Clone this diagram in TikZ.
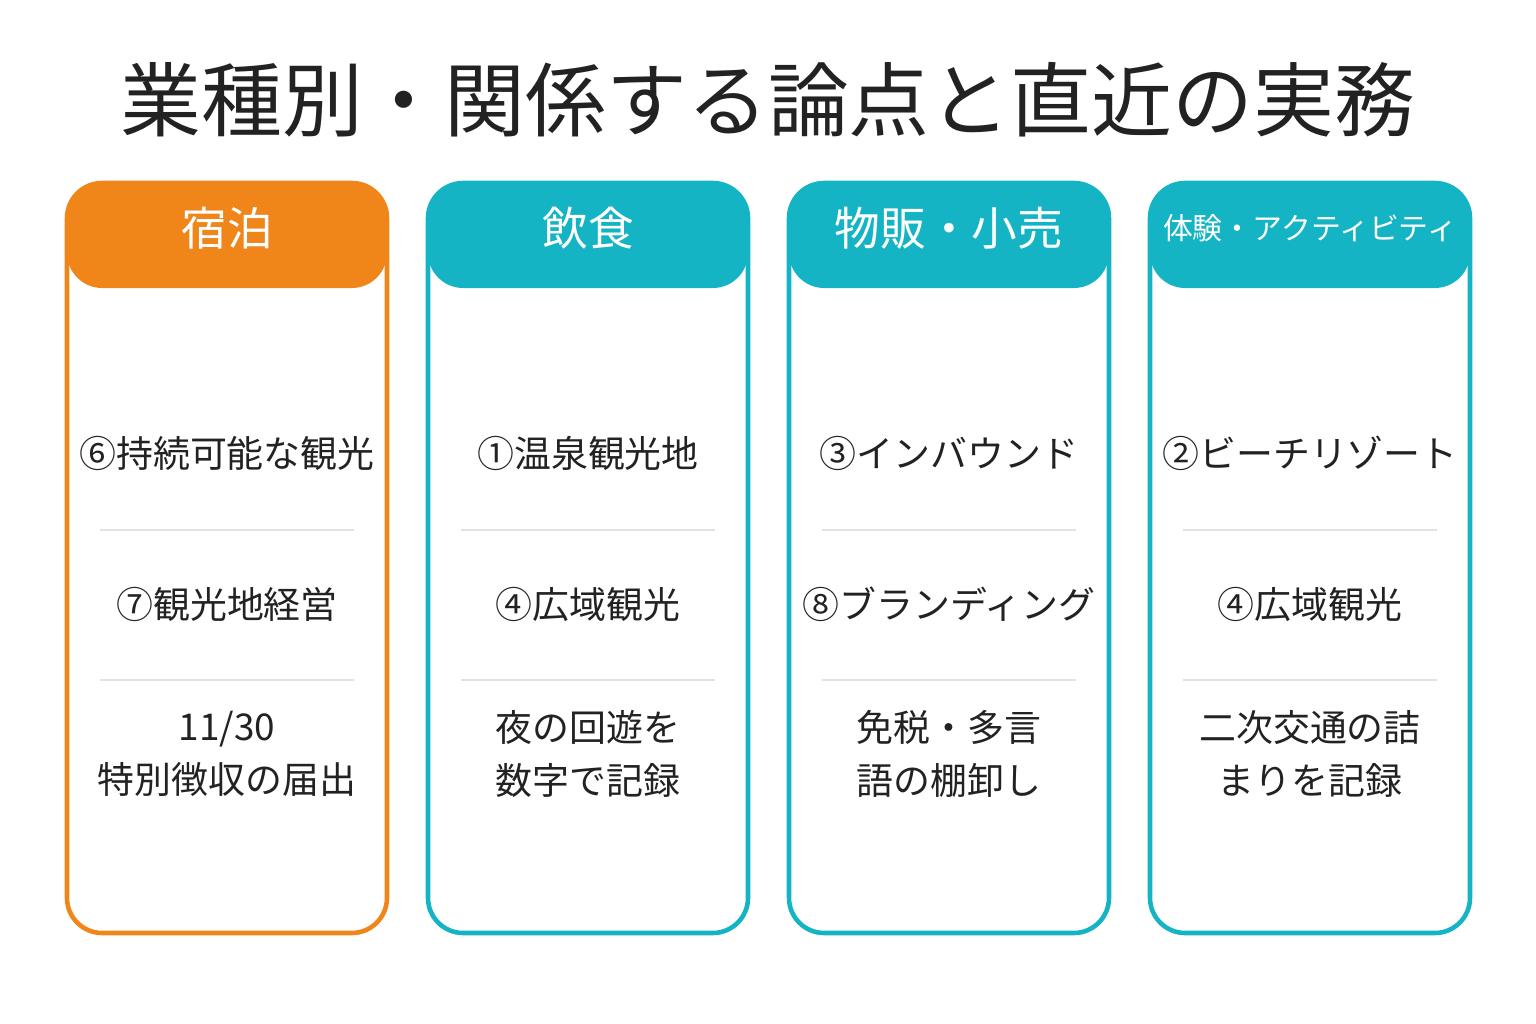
\documentclass[tikz,border=0pt]{standalone}
\usepackage{fontspec}
\setmainfont{Noto Sans CJK JP}
\usetikzlibrary{positioning}
\definecolor{hotel}{HTML}{F0851A}
\definecolor{teal}{HTML}{14B4C4}
\definecolor{rule}{HTML}{E2E2E2}
\definecolor{ink}{HTML}{222222}
\tikzset{
  colbox/.style={draw=#1, line width=1.3pt, rounded corners=10pt},
  colhead/.style={fill=#1, rounded corners=10pt},
  headtext/.style={text=white, font=\fontsize{13pt}{15pt}\selectfont},
  item/.style={text=ink, align=center, font=\fontsize{10.5pt}{15pt}\selectfont},
  sep/.style={draw=rule, line width=0.6pt}
}
\begin{document}
\begin{tikzpicture}[x=0.01cm, y=-0.01cm]
  \useasboundingbox (0,0) rectangle (1536,1024);
  \node[text=ink, font=\fontsize{23pt}{26pt}\selectfont] (title) at (768,100) {業種別・関係する論点と直近の実務};

  % column 1
  \fill[colhead=hotel] (67,183) rectangle (387,288);
  \draw[colbox=hotel] (67,183) rectangle (387,933);
  \node[headtext] (h1) at (227,228) {宿泊};
  \node[item] (a1) at (227,453) {⑥持続可能な観光};
  \node[item] (b1) at (227,604) {⑦観光地経営};
  \node[item] (c1) at (227,754) {11/30\\特別徴収の届出};
  \draw[sep] (100,530) -- (354,530);
  \draw[sep] (100,680) -- (354,680);

  % column 2
  \fill[colhead=teal] (428,183) rectangle (748,288);
  \draw[colbox=teal] (428,183) rectangle (748,933);
  \node[headtext] (h2) at (588,228) {飲食};
  \node[item] (a2) at (588,453) {①温泉観光地};
  \node[item] (b2) at (588,604) {④広域観光};
  \node[item] (c2) at (588,754) {夜の回遊を\\数字で記録};
  \draw[sep] (461,530) -- (715,530);
  \draw[sep] (461,680) -- (715,680);

  % column 3
  \fill[colhead=teal] (789,183) rectangle (1109,288);
  \draw[colbox=teal] (789,183) rectangle (1109,933);
  \node[headtext] (h3) at (949,228) {物販・小売};
  \node[item] (a3) at (949,453) {③インバウンド};
  \node[item] (b3) at (949,604) {⑧ブランディング};
  \node[item] (c3) at (949,754) {免税・多言\\語の棚卸し};
  \draw[sep] (822,530) -- (1076,530);
  \draw[sep] (822,680) -- (1076,680);

  % column 4
  \fill[colhead=teal] (1150,183) rectangle (1470,288);
  \draw[colbox=teal] (1150,183) rectangle (1470,933);
  \node[headtext, font=\fontsize{8.5pt}{10pt}\selectfont] (h4) at (1310,228) {体験・アクティビティ};
  \node[item] (a4) at (1310,453) {②ビーチリゾート};
  \node[item] (b4) at (1310,604) {④広域観光};
  \node[item] (c4) at (1310,754) {二次交通の詰\\まりを記録};
  \draw[sep] (1183,530) -- (1437,530);
  \draw[sep] (1183,680) -- (1437,680);
\end{tikzpicture}
\end{document}
